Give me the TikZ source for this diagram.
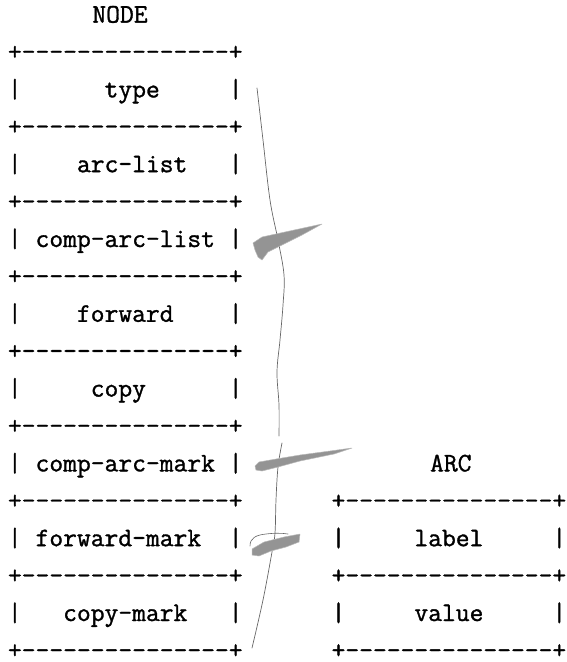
\documentclass[tikz,border=0pt]{standalone}
\usepackage{fontspec}
\setmonofont{Latin Modern Mono}[FakeBold=1.2]
% typewriter face used for the ASCII record layouts
\newcommand\asciifont{\ttfamily\fontsize{26.8}{30}\selectfont}
% a 17-column horizontal border of a record box
\newcommand\asciirule{+---------------+}
\begin{document}
\begin{tikzpicture}[x=1pt,y=-1pt,
  ascii/.style={anchor=base west, inner sep=0pt, outer sep=0pt, font=\asciifont},
  pencil/.style={draw=black!60, line width=0.7pt, line cap=round, line join=round},
  smudge/.style={fill=black!42, draw=black!28, line width=0.5pt, line join=round}
]
\useasboundingbox (0,0) rectangle (567,662);

% ---- NODE record ----
\node[ascii] (nodetitle) at (92.4,22.6) {NODE};
\node[ascii] (n0)      at (7.97,60)    {\asciirule};
\node[ascii] (ntype)   at (7.97,97.4)  {|~~~~~~type~~~~~|};
\node[ascii] (n1)      at (7.97,134.8) {\asciirule};
\node[ascii] (narcs)   at (7.97,172.2) {|~~~~arc-list~~~|};
\node[ascii] (n2)      at (7.97,209.6) {\asciirule};
\node[ascii] (ncarcs)  at (7.97,247)   {|~comp-arc-list~|};
\node[ascii] (n3)      at (7.97,284.4) {\asciirule};
\node[ascii] (nfwd)    at (7.97,321.8) {|~~~~forward~~~~|};
\node[ascii] (n4)      at (7.97,359.2) {\asciirule};
\node[ascii] (ncopy)   at (7.97,396.6) {|~~~~~copy~~~~~~|};
\node[ascii] (n5)      at (7.97,434)   {\asciirule};
\node[ascii] (ncmark)  at (7.97,471.4) {|~comp-arc-mark~|};
\node[ascii] (n6)      at (7.97,508.8) {\asciirule};
\node[ascii] (nfmark)  at (7.97,546.2) {|~forward-mark~~|};
\node[ascii] (n7)      at (7.97,583.6) {\asciirule};
\node[ascii] (nkmark)  at (7.97,621)   {|~~~copy-mark~~~|};
\node[ascii] (n8)      at (7.97,658.4) {\asciirule};

% ---- ARC record ----
\node[ascii] (arctitle) at (430.1,471.4) {ARC};
\node[ascii] (a0)     at (331.6,508.8) {\asciirule};
\node[ascii] (alabel) at (331.6,546.2) {|~~~~~label~~~~~|};
\node[ascii] (a1)     at (331.6,583.6) {\asciirule};
\node[ascii] (avalue) at (331.6,621)   {|~~~~~value~~~~~|};
\node[ascii] (a2)     at (331.6,658.4) {\asciirule};

% ---- pencilled annotations ----
% long bracket line beside the upper fields
\draw[pencil] plot[smooth, tension=0.6] coordinates {
  (257,88) (263,140) (270,200) (278,240) (284,275) (283,305)
  (280,340) (277,372) (279,405) (279,436)};
% lower bracket line beside the mark fields
\draw[pencil] plot[smooth, tension=0.6] coordinates {
  (282,443) (278,467) (276,500) (275,533) (272,552) (263,600) (252,648)};

% smudged arrow at comp-arc-list
\fill[smudge] (253,243) -- (262,237) -- (285,232) -- (322,224) -- (302,235)
  -- (282,245) -- (268,252) -- (262,260) -- (258,257) -- (255,250) -- cycle;
% smudged stroke at comp-arc-mark
\fill[smudge] (255,466) -- (259,462) -- (276,459) -- (300,455) -- (330,451)
  -- (352,448) -- (334,454) -- (300,461) -- (278,467) -- (262,471) -- (256,470) -- cycle;
% scribble at forward-mark
\draw[pencil, line width=0.6pt] (250,546) .. controls (250,538) and (256,535) .. (266,534)
  .. controls (274,533) and (282,533) .. (288,534);
\fill[smudge] (252,549) -- (264,542) -- (284,537) -- (300,534) -- (299,542)
  -- (286,547) -- (271,551) -- (259,556) -- (252,555) -- cycle;
\end{tikzpicture}
\end{document}
